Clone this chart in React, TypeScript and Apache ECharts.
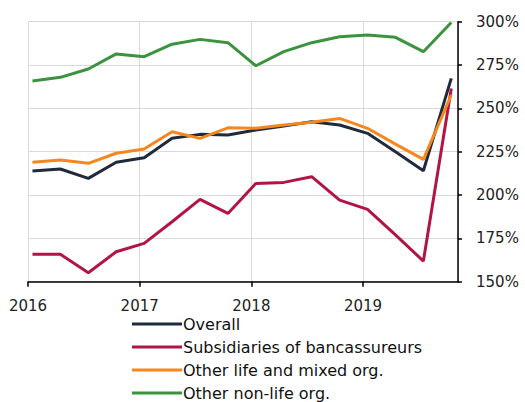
import React, { useEffect, useRef } from "react";
import * as echarts from "echarts";

const periods = [
  2016.04, 2016.29, 2016.54, 2016.79,
  2017.04, 2017.29, 2017.54, 2017.79,
  2018.04, 2018.29, 2018.54, 2018.79,
  2019.04, 2019.29, 2019.54, 2019.79,
];
const seriesNames = [
  "Overall",
  "Subsidiaries of bancassureurs",
  "Other life and mixed org.",
  "Other non-life org.",
];
const overall = [213.8, 215, 209.6, 218.9, 221.5, 232.7, 235, 234.6, 237.5, 239.8, 242.3, 240.4, 235.6, 225, 214, 267.3];
const subsidiaries = [165.8, 165.8, 155.2, 167.3, 172.1, 184.6, 197.5, 189.4, 206.7, 207.3, 210.6, 197.1, 191.7, 177, 161.9, 261.5];
const otherLife = [218.9, 220.2, 218.3, 224.1, 226.5, 236.5, 232.7, 238.8, 238.5, 240.4, 242, 244.2, 238.5, 229.4, 220.6, 257.7];
const otherNonLife = [265.8, 267.9, 272.7, 281.4, 279.8, 287, 289.8, 287.9, 274.6, 282.7, 287.9, 291.3, 292.3, 291, 282.7, 299.5];
const colors = ["#1f2b3d", "#b01545", "#f5871f", "#3b923f"];
const yTicks = { min: 150, max: 300, step: 25 };
const xRange = { min: 2016, max: 2019.85, step: 1 };

export default function App() {
  const ref = useRef<HTMLDivElement>(null);
  useEffect(() => {
    if (!ref.current) return;
    const chart = echarts.init(ref.current, null, { renderer: "svg" });
    const data = [overall, subsidiaries, otherLife, otherNonLife];
    chart.setOption({
      animation: false,
      backgroundColor: "#ffffff",
      grid: { left: 28, right: 67, top: 21.7, bottom: 120.3, containLabel: false },
      xAxis: {
        type: "value",
        min: xRange.min,
        max: xRange.max,
        interval: xRange.step,
        axisLine: { show: true, lineStyle: { color: "#000000", width: 1.5 } },
        axisTick: { show: true, length: 5, lineStyle: { color: "#000000", width: 1.5 } },
        splitLine: { show: true, lineStyle: { color: "#d9d9d9", width: 1 } },
        axisLabel: {
          show: true,
          showMaxLabel: false,
          margin: 17,
          fontFamily: "DejaVu Sans",
          fontSize: 15,
          color: "#222222",
          formatter: (v: number) => (Number.isInteger(v) ? String(v) : ""),
        },
      },
      yAxis: {
        type: "value",
        position: "right",
        min: yTicks.min,
        max: yTicks.max,
        interval: yTicks.step,
        axisLine: { show: true, lineStyle: { color: "#000000", width: 1.5 } },
        axisTick: { show: true, inside: false, length: 4, lineStyle: { color: "#000000", width: 1.5 } },
        splitLine: { show: true, lineStyle: { color: "#d9d9d9", width: 1 } },
        axisLabel: {
          margin: 18,
          fontFamily: "DejaVu Sans",
          fontSize: 15,
          color: "#222222",
          formatter: (v: number) => v + "%",
        },
      },
      legend: {
        orient: "vertical",
        left: 132,
        top: 315,
        height: 110,
        padding: 0,
        itemWidth: 50,
        itemHeight: 3,
        itemGap: 5,
        icon: "rect",
        textStyle: { fontFamily: "DejaVu Sans", fontSize: 16, color: "#111111", padding: [0, 0, 0, -4], lineHeight: 18 },
        data: seriesNames,
      },
      series: seriesNames.map((name, i) => ({
        name,
        type: "line",
        data: periods.map((p, k) => [p, data[i][k]]),
        showSymbol: false,
        symbol: "none",
        lineStyle: { color: colors[i], width: 3 },
        itemStyle: { color: colors[i] },
        emphasis: { disabled: true },
      })),
    });
    return () => chart.dispose();
  }, []);
  return (
    <div
      ref={ref}
      style={{ position: "fixed", left: 0, top: 0, width: 525, height: 402 }}
    />
  );
}
